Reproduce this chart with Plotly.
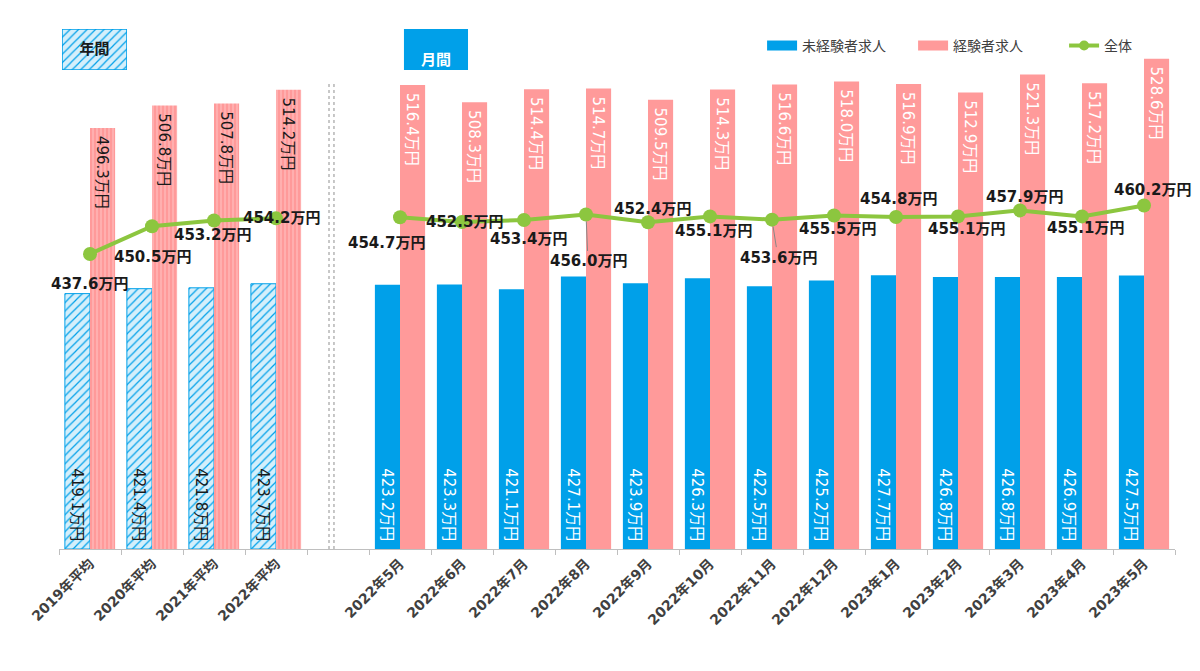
import plotly.graph_objects as go

# ---------------- data ----------------
categories = ["2019年平均", "2020年平均", "2021年平均", "2022年平均", " ",
              "2022年5月", "2022年6月", "2022年7月", "2022年8月", "2022年9月",
              "2022年10月", "2022年11月", "2022年12月", "2023年1月", "2023年2月",
              "2023年3月", "2023年4月", "2023年5月"]
is_annual = [True, True, True, True, False] + [False] * 13

inexperienced = [419.1, 421.4, 421.8, 423.7, None,
                 423.2, 423.3, 421.1, 427.1, 423.9, 426.3, 422.5, 425.2,
                 427.7, 426.8, 426.8, 426.9, 427.5]
experienced = [496.3, 506.8, 507.8, 514.2, None,
               516.4, 508.3, 514.4, 514.7, 509.5, 514.3, 516.6, 518.0,
               516.9, 512.9, 521.3, 517.2, 528.6]
overall = [437.6, 450.5, 453.2, 454.2, None,
           454.7, 452.5, 453.4, 456.0, 452.4, 455.1, 453.6, 455.5,
           454.8, 455.1, 457.9, 455.1, 460.2]

series_names = ["未経験者求人", "経験者求人", "全体"]
panel_labels = ["年間", "月間"]
unit = "万円"

# label placement for the 全体 line labels (pixel offsets, dy positive = down)
label_dx = [-1, 0, -2, 5, 0, -14, 2, 4, 2, 4, 3, 6, 3, 2, 8, 4, 3, 8]
label_dy = [30, 31, 15, 0, 0, 26, 0, 19, 47, -13, 15, 38, 13, -18, 13, -13, 12, -15]
label_leader = [False, False, False, False, False, False, False, False, True, False,
                False, True, False, False, False, False, False, False]

# ---------------- styles ----------------
Y_BASE = 300          # value axis starts here (bars are drawn from this baseline)
Y_TOP = 546.7
BLUE = "#00A0E9"
BLUE_LIGHT = "#D4EFFB"
PINK = "#FF9A9A"
PINK_LIGHT = "#FFC4C4"
GREEN = "#8CC63F"
DARK = "#1A1A1A"
GRAY = "#404040"
FONT = "DejaVu Sans, Noto Sans CJK JP, sans-serif"
PAGE_OFFSET = 8       # default body margin of the html page
PAD = "\u00a0"        # small padding inside bars


def fmt(v):
    return "" if v is None else f"{v:.1f}{unit}"


def above_base(vals):
    return [None if v is None else v - Y_BASE for v in vals]


fig = go.Figure()

# 未経験者求人
fig.add_trace(go.Bar(
    x=categories, y=above_base(inexperienced), base=Y_BASE,
    name=series_names[0], showlegend=False,
    text=[fmt(v) + PAD if v is not None else "" for v in inexperienced],
    textposition="inside", insidetextanchor="start", textangle=90,
    textfont=dict(family=FONT, size=16,
                  color=[DARK if a else "white" for a in is_annual]),
    marker=dict(
        color=BLUE,
        line=dict(color=BLUE, width=[1 if a else 0 for a in is_annual]),
        pattern=dict(shape=["/" if a else "" for a in is_annual],
                     fgcolor=BLUE, bgcolor=BLUE_LIGHT, size=6, solidity=0.2,
                     fillmode="replace"),
    ),
    hoverinfo="skip",
))

# 経験者求人
fig.add_trace(go.Bar(
    x=categories, y=above_base(experienced), base=Y_BASE,
    name=series_names[1], showlegend=False,
    text=[PAD + fmt(v) if v is not None else "" for v in experienced],
    textposition="inside", insidetextanchor="end", textangle=90,
    textfont=dict(family=FONT, size=16,
                  color=[DARK if a else "white" for a in is_annual]),
    marker=dict(
        color=PINK,
        line=dict(width=0),
        pattern=dict(shape=["|" if a else "" for a in is_annual],
                     fgcolor=PINK_LIGHT, bgcolor=PINK, size=4, solidity=0.25,
                     fillmode="replace"),
    ),
    hoverinfo="skip",
))

# 全体
fig.add_trace(go.Scatter(
    x=categories, y=overall, name=series_names[2], showlegend=False,
    mode="lines+markers", connectgaps=False,
    line=dict(color=GREEN, width=4),
    marker=dict(color=GREEN, size=14),
    hoverinfo="skip",
))

# legend-only entries
fig.add_trace(go.Scatter(x=[None], y=[None], name=series_names[0], mode="lines",
                         line=dict(color=BLUE, width=12)))
fig.add_trace(go.Scatter(x=[None], y=[None], name=series_names[1], mode="lines",
                         line=dict(color=PINK, width=12)))
fig.add_trace(go.Scatter(x=[None], y=[None], name=series_names[2], mode="lines+markers",
                         line=dict(color=GREEN, width=4), marker=dict(color=GREEN, size=10)))

# 年間 panel label (hatched box drawn as a bar on its own small axes)
fig.add_trace(go.Bar(
    x=[0], y=[1], width=[1], xaxis="x2", yaxis="y2", showlegend=False,
    text=[panel_labels[0]], textposition="inside", insidetextanchor="middle",
    textangle=0,
    textfont=dict(family=FONT, size=15, color=DARK, weight="bold"),
    marker=dict(line=dict(color=BLUE, width=1.5),
                pattern=dict(shape="/", fgcolor=BLUE, bgcolor=BLUE_LIGHT, size=6,
                             solidity=0.2, fillmode="replace")),
    hoverinfo="skip",
))

# line value labels
for c, v, dx, dy, lead in zip(categories, overall, label_dx, label_dy, label_leader):
    if v is None:
        continue
    if lead:
        fig.add_annotation(x=c, y=v, text=fmt(v), showarrow=True, ax=dx, ay=dy,
                           arrowhead=0, arrowwidth=1, arrowcolor="#888888", standoff=7,
                           font=dict(family=FONT, size=15, color=DARK, weight="bold"))
    else:
        fig.add_annotation(x=c, y=v, text=fmt(v), showarrow=False, xshift=dx, yshift=-dy,
                           font=dict(family=FONT, size=15, color=DARK, weight="bold"))

# 月間 panel label
fig.add_shape(type="rect", xref="paper", yref="paper",
              x0=0.3091, x1=0.3665, y0=0.9055, y1=0.983,
              fillcolor=BLUE, line=dict(width=0), layer="above")
fig.add_annotation(xref="paper", yref="paper", x=(0.3091 + 0.3665) / 2, y=(0.9055 + 0.983) / 2,
                   text=panel_labels[1], showarrow=False,
                   font=dict(family=FONT, size=15, color="white", weight="bold"))

# dashed separator (double line)
for xs in (3.855, 3.935):
    fig.add_shape(type="line", xref="x", yref="y", x0=xs, x1=xs, y0=Y_BASE, y1=517,
                  line=dict(color="#AAAAAA", width=1.3, dash="dot"), layer="below")

fig.update_layout(
    width=1200, height=671,
    margin=dict(l=59 - PAGE_OFFSET, r=25 + PAGE_OFFSET, t=20 - PAGE_OFFSET,
                b=122 + PAGE_OFFSET, autoexpand=False),
    paper_bgcolor="white", plot_bgcolor="white",
    barmode="group", bargap=0.19, bargroupgap=0,
    uniformtext=dict(mode="show", minsize=14),
    font=dict(family=FONT, color=GRAY),
    showlegend=True,
    legend=dict(orientation="h", x=0.630, y=0.951, xanchor="left", yanchor="middle",
                font=dict(family=FONT, size=14, color=GRAY),
                bgcolor="rgba(0,0,0,0)", entrywidth=106, entrywidthmode="pixels",
                itemclick=False),
    xaxis=dict(type="category", categoryorder="array", categoryarray=categories,
               range=[-0.5, len(categories) - 0.5],
               tickson="boundaries", ticks="outside", ticklen=5, tickcolor="#BFBFBF",
               showline=True, linecolor="#BFBFBF", linewidth=1,
               showgrid=False, zeroline=False, tickangle=-45,
               tickfont=dict(family=FONT, size=14, color=GRAY, weight="bold")),
    yaxis=dict(range=[Y_BASE, Y_TOP], visible=False, showgrid=False, zeroline=False),
    xaxis2=dict(domain=[0.0027, 0.0609], anchor="y2", range=[-0.5, 0.5],
                visible=False, fixedrange=True),
    yaxis2=dict(domain=[0.9055, 0.983], anchor="x2", range=[0, 1],
                visible=False, fixedrange=True),
)

fig.write_html("out.html")
